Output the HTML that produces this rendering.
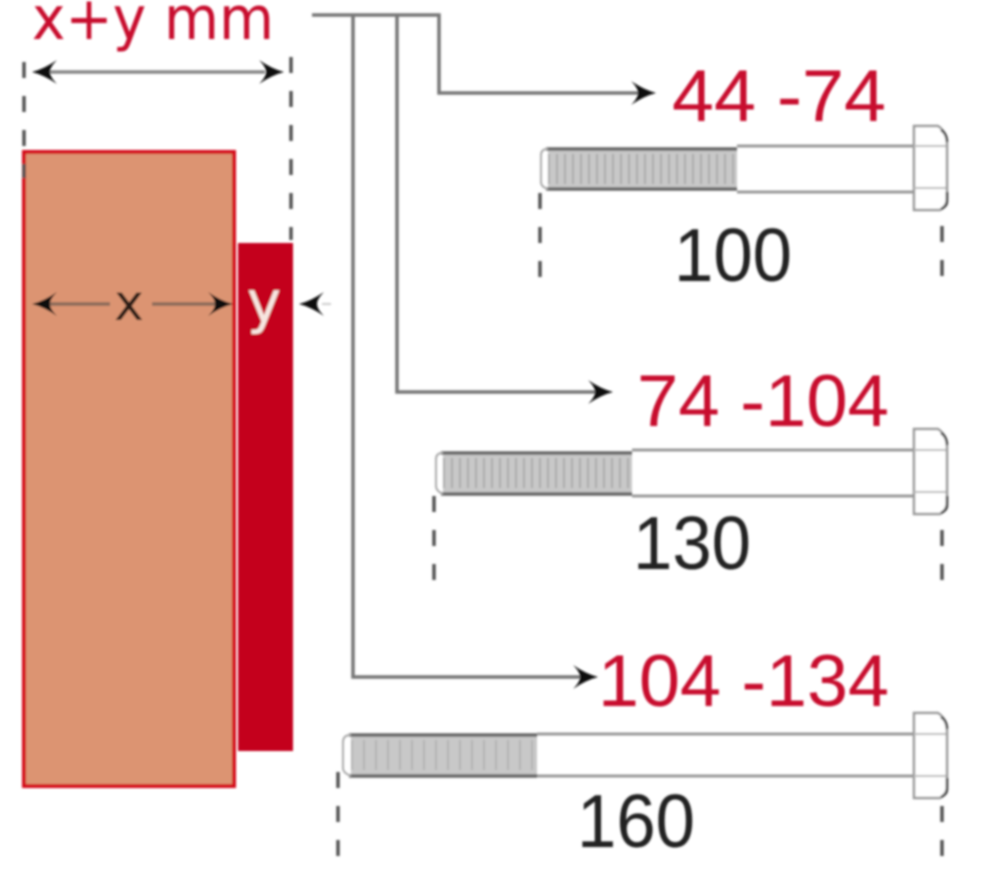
<!DOCTYPE html>
<html><head><meta charset="utf-8"><style>
html,body{margin:0;padding:0;background:#fff}
svg{display:block}
text{font-family:"DejaVu Sans","Liberation Sans",sans-serif}
text.d{font-family:"Liberation Sans","DejaVu Sans",sans-serif}
</style></head><body>
<svg width="986" height="869" viewBox="0 0 986 869" xmlns="http://www.w3.org/2000/svg">
<defs>
<filter id="b" x="-2%" y="-2%" width="104%" height="104%"><feGaussianBlur stdDeviation="1"/></filter>
<path id="ar" d="M0 0 Q-12 -3 -25 -12 Q-18 -5 -18 0 Q-18 5 -25 12 Q-12 3 0 0Z" fill="#111"/>
</defs>
<g filter="url(#b)">
<!-- blocks -->
<rect x="24" y="152" width="210" height="634" fill="#dc9472" stroke="#d4101f" stroke-width="4"/>
<rect x="238" y="243" width="55" height="508" fill="#c4001a"/>
<!-- dimension dashes -->
<g stroke="#555" stroke-width="3.5" fill="none" stroke-dasharray="16 18">
<path d="M24 62V178"/>
<path d="M291 57V240"/>
<path d="M540 193V279"/>
<path d="M942 226V279"/>
<path d="M434 496V581"/>
<path d="M942 530V581"/>
<path d="M338 772V858"/>
<path d="M942 806V858"/>
</g>
<!-- dimension arrows -->
<path d="M50 72H265" stroke="#888" stroke-width="3.5" fill="none"/>
<use href="#ar" transform="translate(284,72)"/>
<use href="#ar" transform="translate(32,72) rotate(180)"/>
<path d="M50 304H110M152 304H215" stroke="#8a6a5a" stroke-width="3.5" fill="none"/>
<use href="#ar" transform="translate(233,304)"/>
<use href="#ar" transform="translate(32,304) rotate(180)"/>
<use href="#ar" transform="translate(299,304) rotate(180)"/>
<path d="M322 304H331" stroke="#ccc" stroke-width="2"/>
<!-- leaders -->
<g stroke="#777" stroke-width="3.5" fill="none">
<path d="M312 15H439V93H640"/>
<path d="M353 15V677H580"/>
<path d="M397 15V392H596"/>
</g>
<use href="#ar" transform="translate(656,93)"/>
<use href="#ar" transform="translate(613,392)"/>
<use href="#ar" transform="translate(598,677)"/>
<!-- bolt 100 -->
<g>
<rect x="548" y="149" width="189" height="40" fill="#c8c8c8"/>
<path d="M548 169H737" stroke="#aaa" stroke-width="30" stroke-dasharray="2 6" fill="none"/>
<path d="M546 149H737M546 189H737" stroke="#666" stroke-width="3.5" fill="none"/>
<path d="M737 146H914M737 192H914" stroke="#999" stroke-width="3" fill="none"/>
<path d="M548 149H546Q541 150 541 155V182Q541 187 548 189" stroke="#aaa" stroke-width="2" fill="none"/>
<path d="M914 126H938Q947 132 947 144V198Q947 206 940 210H914Z" fill="#fff" stroke="#999" stroke-width="2.5"/>
<path d="M914 146H946M914 188H946" stroke="#bbb" stroke-width="2"/>
<path d="M941 130Q947 134 947 142M947 192V202Q947 206 941 209" stroke="#444" stroke-width="2.5" fill="none"/>
</g>
<!-- bolt 130 -->
<g>
<rect x="443" y="453" width="189" height="41" fill="#c8c8c8"/>
<path d="M443 473H632" stroke="#aaa" stroke-width="30" stroke-dasharray="2 6" fill="none"/>
<path d="M441 453H632M441 494H632" stroke="#666" stroke-width="3.5" fill="none"/>
<path d="M632 450H914M632 496H914" stroke="#999" stroke-width="3" fill="none"/>
<path d="M443 453H441Q436 454 436 459V486Q436 491 443 494" stroke="#aaa" stroke-width="2" fill="none"/>
<path d="M914 429H938Q947 435 947 447V502Q947 510 940 514H914Z" fill="#fff" stroke="#999" stroke-width="2.5"/>
<path d="M914 450H946M914 492H946" stroke="#bbb" stroke-width="2"/>
<path d="M941 433Q947 437 947 445M947 496V506Q947 510 941 513" stroke="#444" stroke-width="2.5" fill="none"/>
</g>
<!-- bolt 160 -->
<g>
<rect x="351" y="735" width="186" height="41" fill="#c8c8c8"/>
<path d="M351 755H537" stroke="#b4b4b4" stroke-width="30" stroke-dasharray="2 10" fill="none"/>
<path d="M349 735H537M349 776H537" stroke="#666" stroke-width="3.5" fill="none"/>
<path d="M537 734H914M537 776H914" stroke="#999" stroke-width="3" fill="none"/>
<path d="M351 735H349Q343 736 343 742V768Q343 773 351 776" stroke="#aaa" stroke-width="2" fill="none"/>
<path d="M914 713H938Q947 719 947 731V786Q947 794 940 798H914Z" fill="#fff" stroke="#999" stroke-width="2.5"/>
<path d="M914 734H946M914 776H946" stroke="#bbb" stroke-width="2"/>
<path d="M941 717Q947 721 947 729M947 778V790Q947 794 941 797" stroke="#444" stroke-width="2.5" fill="none"/>
</g>
<!-- labels -->
<text x="32" y="39" font-size="60" fill="#c8102e" textLength="242" lengthAdjust="spacingAndGlyphs">x+y mm</text>
<g fill="#c8102e" font-size="73">
<text class="d" x="672" y="121" textLength="214" lengthAdjust="spacingAndGlyphs">44 -74</text>
<text class="d" x="637" y="426" textLength="252" lengthAdjust="spacingAndGlyphs">74 -104</text>
<text class="d" x="598" y="706" textLength="291" lengthAdjust="spacingAndGlyphs">104 -134</text>
</g>
<g fill="#222" font-size="75">
<text class="d" x="674" y="281" textLength="118" lengthAdjust="spacingAndGlyphs">100</text>
<text class="d" x="633" y="569" textLength="118" lengthAdjust="spacingAndGlyphs">130</text>
<text class="d" x="577" y="847" textLength="118" lengthAdjust="spacingAndGlyphs">160</text>
</g>
<text x="114" y="320" font-size="50" fill="#2a1a12" textLength="30" lengthAdjust="spacingAndGlyphs">x</text>
<text x="247" y="322" font-size="58" fill="#f6e6e0" textLength="34" lengthAdjust="spacingAndGlyphs">y</text>
</g>
</svg>
</body></html>
